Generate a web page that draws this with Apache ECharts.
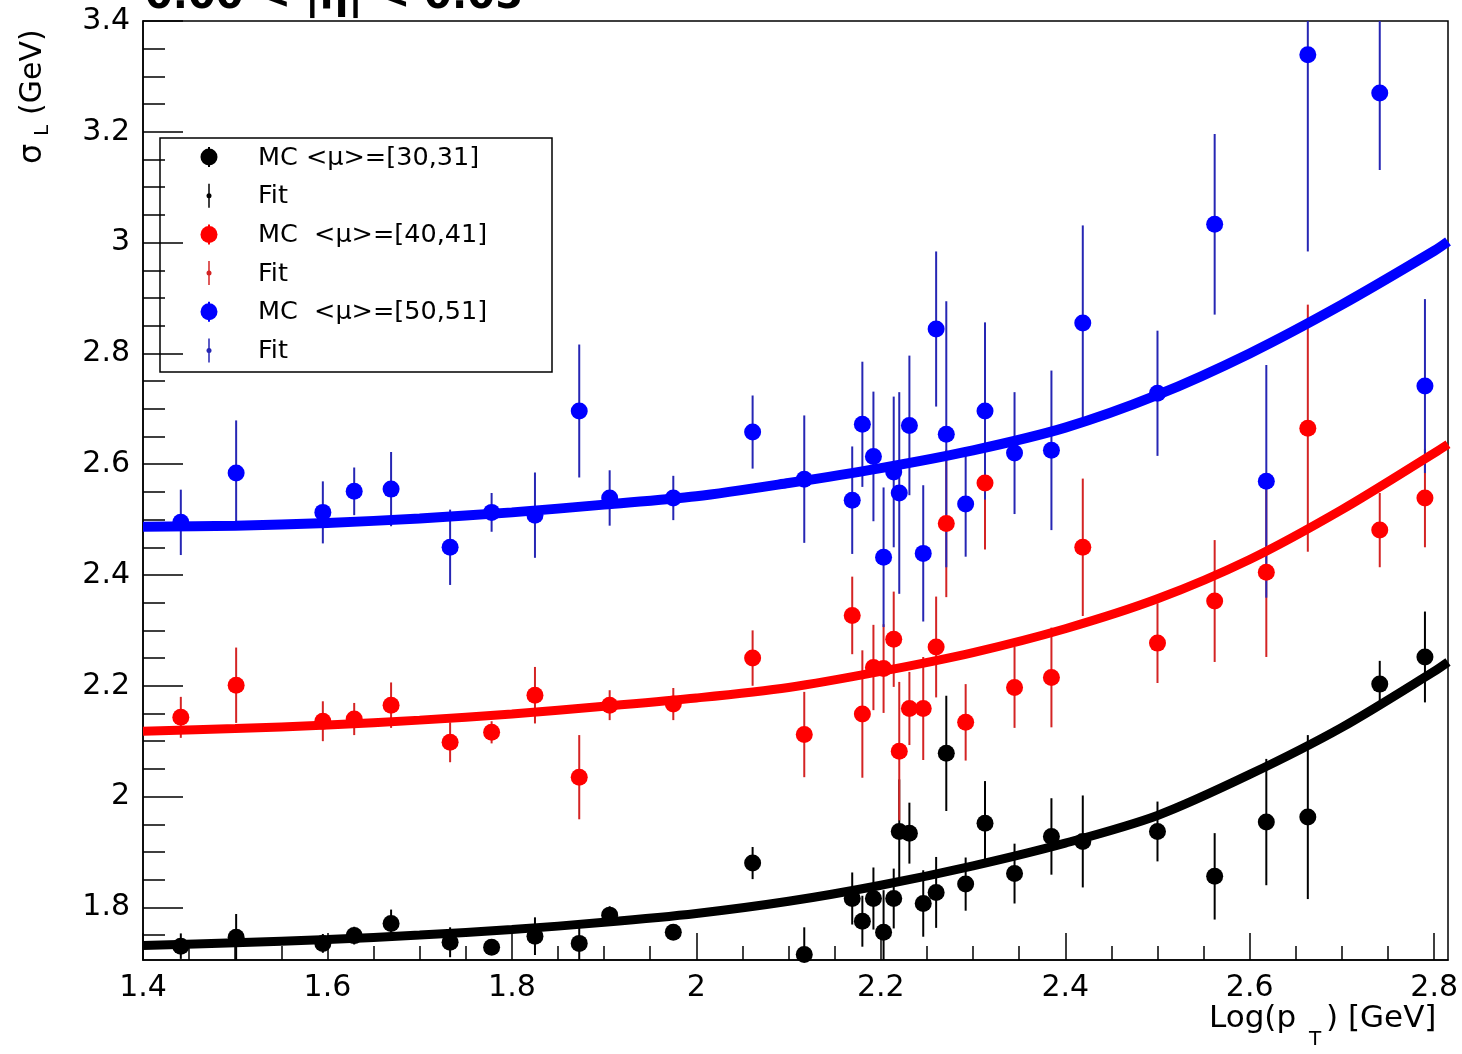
<!DOCTYPE html>
<html>
<head>
<meta charset="utf-8">
<script src="https://cdn.jsdelivr.net/npm/echarts@6/dist/echarts.min.js"></script>
<style>
  html, body { margin: 0; padding: 0; background: #fff; }
  #chart { width: 1462px; height: 1054px; }
</style>
</head>
<body>
<div id="chart"></div>
<script>
// Bin centres, Log(pT)
const logPt = [1.441, 1.501, 1.595, 1.629, 1.669, 1.733, 1.778, 1.825, 1.873, 1.906,
  1.975, 2.061, 2.117, 2.169, 2.180, 2.192, 2.203, 2.214, 2.220, 2.231,
  2.246, 2.260, 2.271, 2.292, 2.313, 2.345, 2.385, 2.419, 2.500, 2.562,
  2.618, 2.663, 2.741, 2.790];

// MC <mu> = [30,31]
const sigma30 = [1.730, 1.746, 1.735, 1.749, 1.771, 1.737, 1.728, 1.748, 1.735, 1.786,
  1.755, 1.880, 1.715, 1.816, 1.775, 1.816, 1.755, 1.816, 1.937, 1.934,
  1.807, 1.827, 2.078, 1.842, 1.952, 1.861, 1.928, 1.919, 1.937, 1.856,
  1.954, 1.963, 2.203, 2.252];
const err30 = [0.023, 0.042, 0.017, 0.016, 0.025, 0.027, 0.012, 0.034, 0.040, 0.016,
  0.012, 0.029, 0.049, 0.047, 0.046, 0.056, 0.076, 0.054, 0.094, 0.055,
  0.060, 0.064, 0.104, 0.048, 0.076, 0.054, 0.069, 0.083, 0.054, 0.078,
  0.114, 0.148, 0.042, 0.082];

// MC <mu> = [40,41]
const sigma40 = [2.143, 2.201, 2.136, 2.140, 2.165, 2.098, 2.116, 2.183, 2.035, 2.165,
  2.167, 2.250, 2.112, 2.327, 2.149, 2.233, 2.231, 2.284, 2.082, 2.159,
  2.159, 2.270, 2.493, 2.134, 2.566, 2.197, 2.215, 2.450, 2.277, 2.353,
  2.405, 2.665, 2.481, 2.539];
const err40 = [0.037, 0.068, 0.036, 0.029, 0.041, 0.036, 0.020, 0.051, 0.076, 0.027,
  0.029, 0.050, 0.077, 0.070, 0.115, 0.077, 0.080, 0.086, 0.125, 0.066,
  0.093, 0.091, 0.133, 0.069, 0.120, 0.073, 0.090, 0.124, 0.072, 0.110,
  0.153, 0.223, 0.067, 0.089];

// MC <mu> = [50,51]
const sigma50 = [2.495, 2.584, 2.513, 2.551, 2.555, 2.450, 2.513, 2.508, 2.696, 2.539,
  2.539, 2.658, 2.573, 2.535, 2.672, 2.614, 2.432, 2.586, 2.548, 2.670,
  2.439, 2.844, 2.654, 2.528, 2.696, 2.620, 2.625, 2.855, 2.728, 3.033,
  2.569, 3.339, 3.270, 2.741];
const err50 = [0.059, 0.095, 0.056, 0.043, 0.067, 0.068, 0.035, 0.077, 0.120, 0.050,
  0.040, 0.066, 0.115, 0.097, 0.113, 0.117, 0.126, 0.136, 0.182, 0.126,
  0.123, 0.140, 0.240, 0.095, 0.160, 0.110, 0.144, 0.176, 0.113, 0.163,
  0.210, 0.355, 0.139, 0.157];

// Fitted curves, sampled along Log(pT)
const fitLogPt = [1.4, 1.5, 1.6, 1.7, 1.8, 1.9, 2.0, 2.1, 2.2, 2.3, 2.4, 2.5, 2.6, 2.7, 2.8, 2.815];
const fit30 = [1.731, 1.736, 1.742, 1.750, 1.760, 1.773, 1.789, 1.811, 1.840, 1.875, 1.916, 1.966, 2.040, 2.125, 2.226, 2.243];
const fit40 = [2.118, 2.123, 2.129, 2.138, 2.149, 2.163, 2.178, 2.197, 2.226, 2.260, 2.303, 2.357, 2.428, 2.518, 2.620, 2.636];
const fit50 = [2.487, 2.489, 2.494, 2.502, 2.513, 2.527, 2.542, 2.566, 2.593, 2.625, 2.666, 2.725, 2.800, 2.888, 2.985, 3.002];

// Axis ranges and tick labels
const xRange = [1.4, 2.815];
const yRange = [1.705, 3.4];
const xMajor = [1.4, 1.6, 1.8, 2, 2.2, 2.4, 2.6, 2.8];
const yMajor = [1.8, 2, 2.2, 2.4, 2.6, 2.8, 3, 3.2, 3.4];

const titleText = '0.00 < |\u03B7| < 0.05';
const legendLabels = ['MC <\u03BC>=[30,31]', 'Fit', 'MC  <\u03BC>=[40,41]', 'Fit', 'MC  <\u03BC>=[50,51]', 'Fit'];

// minor ticks every 0.05 between the 0.2 majors
const xMinor = [];
for (let k = 29; k <= 55; k++) if (k % 4 !== 0) xMinor.push(Math.round(k * 5) / 100);
const yMinor = [];
for (let k = 35; k <= 67; k++) if (k % 4 !== 0) yMinor.push(Math.round(k * 5) / 100);

const FONT = '"DejaVu Sans", sans-serif';
const styles = {
  c30: { point: '#000000', bar: '#000000', fit: '#000000', width: 9 },
  c40: { point: '#ff0000', bar: '#d42424', fit: '#ff0000', width: 9 },
  c50: { point: '#0000ff', bar: '#2626b4', fit: '#0000ff', width: 10 }
};

function errorBars(ys, es, color) {
  return {
    type: 'custom',
    silent: true,
    data: logPt.map((x, i) => [x, ys[i] - es[i], ys[i] + es[i]]),
    encode: { x: 0, y: [1, 2] },
    renderItem(params, api) {
      const x = api.value(0);
      const lo = Math.max(api.value(1), yRange[0]);
      const hi = Math.min(api.value(2), yRange[1]);
      const p1 = api.coord([x, lo]);
      const p2 = api.coord([x, hi]);
      return {
        type: 'line',
        shape: { x1: p1[0], y1: p1[1], x2: p2[0], y2: p2[1] },
        style: { stroke: color, lineWidth: 2 }
      };
    }
  };
}
function points(ys, color) {
  return {
    type: 'scatter', silent: true, symbol: 'circle', symbolSize: 17,
    itemStyle: { color: color, opacity: 1 },
    data: logPt.map((x, i) => [x, ys[i]])
  };
}
function fitLine(ys, st) {
  return {
    type: 'line', silent: true, smooth: 0.3, showSymbol: false, symbol: 'none',
    lineStyle: { color: st.fit, width: st.width },
    data: fitLogPt.map((x, i) => [x, ys[i]])
  };
}

function axisPair(kind, range, major, minor, majorLen, minorLen) {
  const common = {
    type: 'value', min: range[0], max: range[1],
    position: kind === 'x' ? 'bottom' : 'left', offset: 0,
    splitLine: { show: false }, scale: true
  };
  return [
    Object.assign({}, common, {
      axisLine: { show: true, onZero: false, lineStyle: { color: '#000', width: 1.5 } },
      axisTick: { show: true, inside: true, length: majorLen, customValues: major,
        lineStyle: { color: '#000', width: 1.5 } },
      axisLabel: { show: true, customValues: major, color: '#000', fontFamily: FONT,
        fontSize: 30, margin: 13, showMinLabel: true, showMaxLabel: true }
    }),
    Object.assign({}, common, {
      axisLine: { show: false, onZero: false },
      axisTick: { show: true, inside: true, length: minorLen, customValues: minor,
        lineStyle: { color: '#000', width: 1.5 } },
      axisLabel: { show: false }
    })
  ];
}

// Legend drawn as a framed box of entries
const legendColors = [styles.c30, styles.c30, styles.c40, styles.c40, styles.c50, styles.c50];
const legendChildren = [{
  type: 'rect', shape: { x: 160, y: 138, width: 392, height: 234 },
  style: { fill: '#fff', stroke: '#000', lineWidth: 1.5 }
}];
legendLabels.forEach((label, i) => {
  const cy = 157 + i * 38.7;
  const c = legendColors[i];
  if (i % 2 === 0) {
    legendChildren.push({ type: 'line', shape: { x1: 209, y1: cy - 10, x2: 209, y2: cy + 10 },
      style: { stroke: c.point, lineWidth: 2 } });
    legendChildren.push({ type: 'circle', shape: { cx: 209, cy: cy, r: 8.5 }, style: { fill: c.point } });
  } else {
    legendChildren.push({ type: 'line', shape: { x1: 209, y1: cy - 12, x2: 209, y2: cy + 12 },
      style: { stroke: c.bar, lineWidth: 1.5 } });
    legendChildren.push({ type: 'circle', shape: { cx: 209, cy: cy, r: 2.5 }, style: { fill: c.bar } });
  }
  legendChildren.push({ type: 'text', x: 258, y: cy + 1,
    style: { text: label, fill: '#000', font: '25.5px ' + FONT, verticalAlign: 'middle', align: 'left' } });
});

const option = {
  animation: false,
  backgroundColor: '#fff',
  grid: { left: 143, right: 14, top: 21, bottom: 94, show: true, borderColor: '#000', borderWidth: 1.5,
    backgroundColor: 'transparent', containLabel: false },
  xAxis: axisPair('x', xRange, xMajor, xMinor, 27, 14),
  yAxis: axisPair('y', yRange, yMajor, yMinor, 40, 22),
  series: [
    errorBars(sigma30, err30, styles.c30.bar), points(sigma30, styles.c30.point), fitLine(fit30, styles.c30),
    errorBars(sigma40, err40, styles.c40.bar), points(sigma40, styles.c40.point), fitLine(fit40, styles.c40),
    errorBars(sigma50, err50, styles.c50.bar), points(sigma50, styles.c50.point), fitLine(fit50, styles.c50)
  ],
  graphic: [
    // pseudorapidity bin title, running off the top edge
    { type: 'text', x: 145, y: -2, z: 100,
      style: { text: titleText, fill: '#000', font: 'bold 40px ' + FONT, verticalAlign: 'middle', align: 'left' } },
    // y axis title
    { type: 'group', x: 33, y: 164, rotation: Math.PI / 2, z: 100, children: [
      { type: 'text', x: 0, y: 0, style: { text: '\u03C3', fill: '#000', font: '32px ' + FONT, verticalAlign: 'middle', align: 'left' } },
      { type: 'text', x: 28, y: 10, style: { text: 'L', fill: '#000', font: '20px ' + FONT, verticalAlign: 'middle', align: 'left' } },
      { type: 'text', x: 49, y: 0, style: { text: '(GeV)', fill: '#000', font: '30px ' + FONT, verticalAlign: 'middle', align: 'left' } }
    ] },
    // x axis title
    { type: 'group', x: 0, y: 0, z: 100, children: [
      { type: 'text', x: 1209, y: 1019, style: { text: 'Log(p', fill: '#000', font: '31px ' + FONT, verticalAlign: 'middle', align: 'left' } },
      { type: 'text', x: 1309, y: 1040, style: { text: 'T', fill: '#000', font: '20px ' + FONT, verticalAlign: 'middle', align: 'left' } },
      { type: 'text', x: 1326, y: 1019, style: { text: ') [GeV]', fill: '#000', font: '31px ' + FONT, verticalAlign: 'middle', align: 'left' } }
    ] },
    { type: 'group', x: 0, y: 0, z: 100, children: legendChildren }
  ]
};

const chart = echarts.init(document.getElementById('chart'), null, { renderer: 'canvas' });
chart.setOption(option);
</script>
</body>
</html>
